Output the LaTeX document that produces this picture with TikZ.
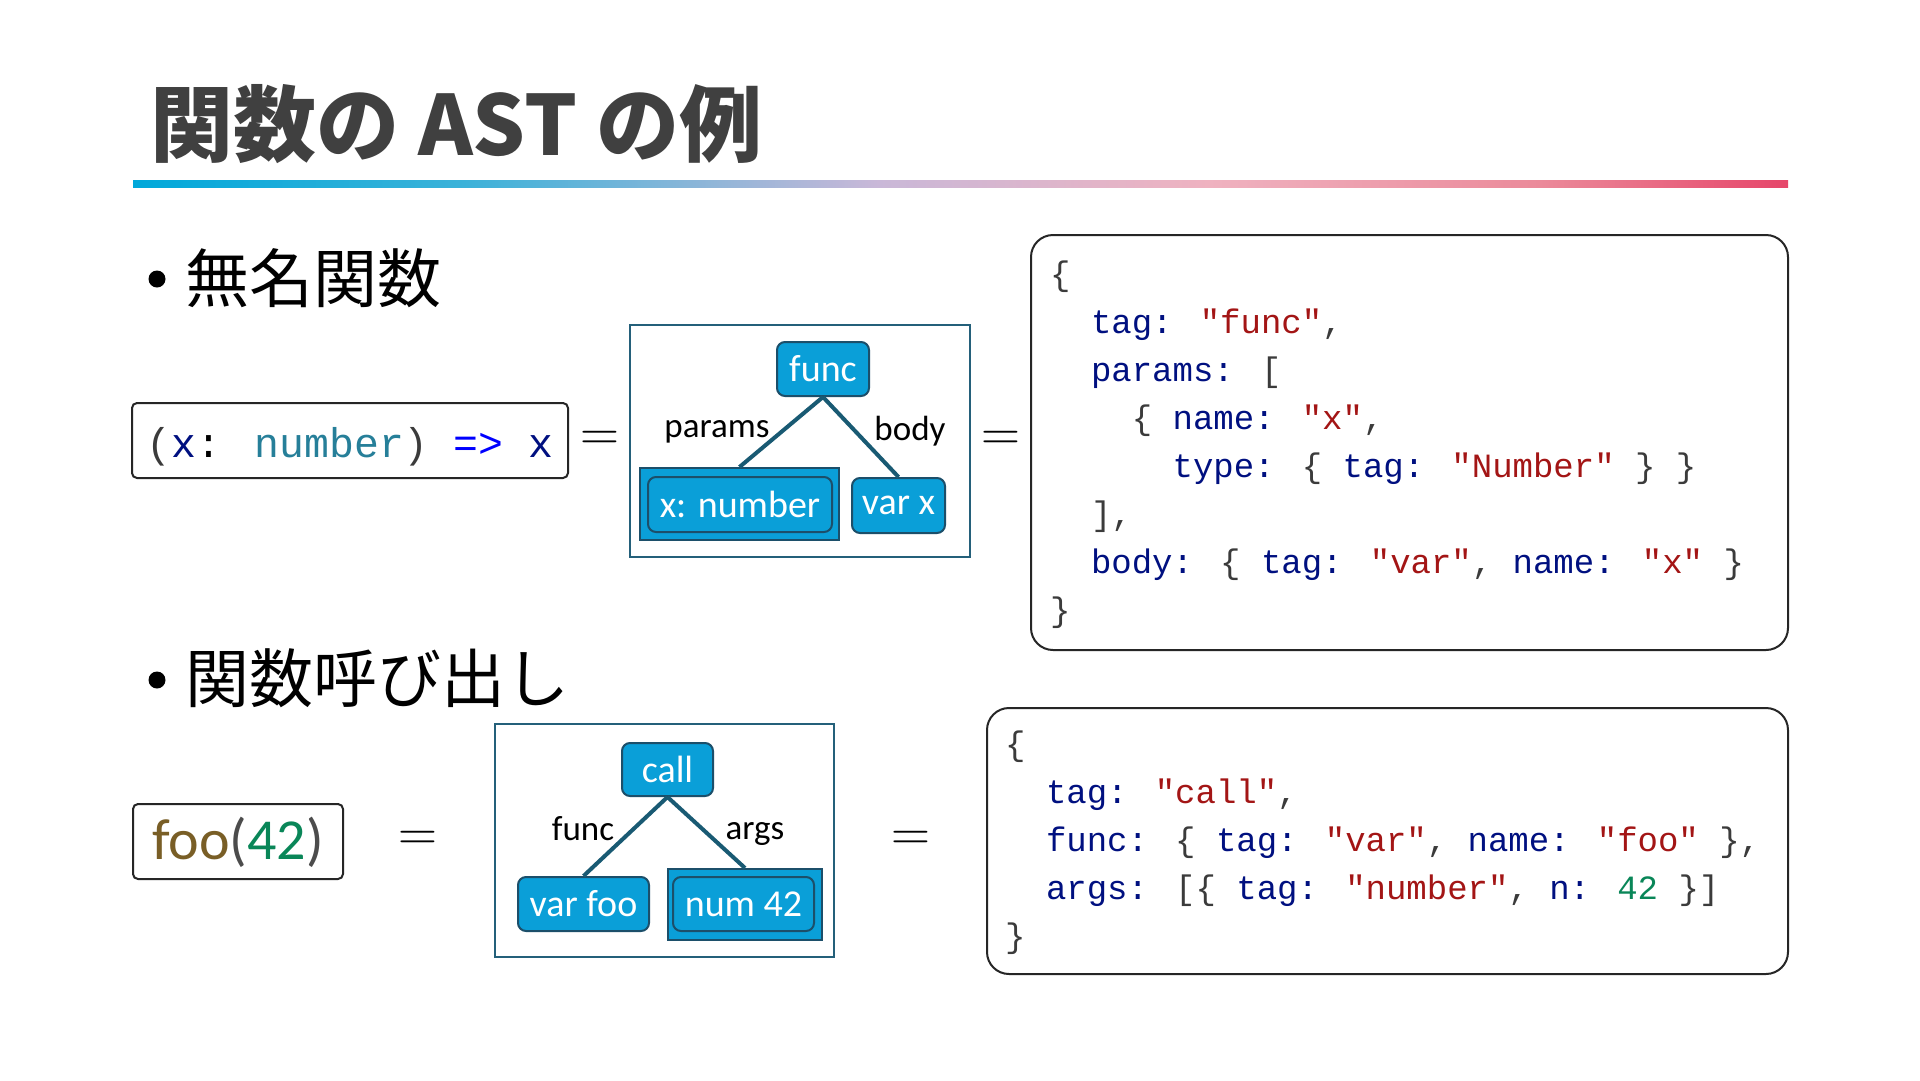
\documentclass[tikz,border=0pt]{standalone}
\usepackage{fontspec}
\newfontfamily\cjkfont{Noto Sans CJK JP}
\newfontfamily\calfont{Carlito}
\newfontfamily\codefont{Liberation Mono}
\definecolor{titlegray}{HTML}{404040}
\definecolor{nodeblue}{HTML}{0A9FD8}
\definecolor{nodeline}{HTML}{1C4F6A}
\definecolor{edgec}{HTML}{195A73}
\definecolor{boxline}{HTML}{24607A}
\definecolor{keyc}{HTML}{001080}
\definecolor{strc}{HTML}{A31515}
\definecolor{punc}{HTML}{3B3B3B}
\definecolor{numc}{HTML}{098658}
\definecolor{typec}{HTML}{267F99}
\definecolor{kwc}{HTML}{0000FF}
\definecolor{fnc}{HTML}{795E26}
\definecolor{barA}{HTML}{00A8DA}
\definecolor{barB}{HTML}{3BB2D9}
\definecolor{barC}{HTML}{C9B8D8}
\definecolor{barD}{HTML}{EFB2C0}
\definecolor{barE}{HTML}{EB8A9A}
\definecolor{barF}{HTML}{E6466A}
\pgfdeclarehorizontalshading{barshade}{100bp}{color(0bp)=(barA); color(25bp)=(barA); color(35bp)=(barB); color(47.5bp)=(barC); color(57.5bp)=(barD); color(67.5bp)=(barE); color(75bp)=(barF); color(100bp)=(barF)}
\newcommand{\jk}[1]{\textcolor{keyc}{#1}}
\newcommand{\js}[1]{\textcolor{strc}{#1}}
\newcommand{\jp}[1]{\textcolor{punc}{#1}}
\newcommand{\jn}[1]{\textcolor{numc}{#1}}
\begin{document}
\begin{tikzpicture}[x=1pt,y=-1pt,
  titlestyle/.style={anchor=base west, inner sep=0, text=titlegray, font=\cjkfont\bfseries\fontsize{83}{85}\selectfont},
  bulletdot/.style={circle, fill=black, minimum size=17, inner sep=0},
  bullettext/.style={anchor=base west, inner sep=0, text=black, font=\cjkfont\fontsize{64}{66}\selectfont},
  srcbox/.style={draw=black!85, line width=2, rounded corners=5, inner sep=0},
  astnode/.style={draw=nodeline, fill=nodeblue, line width=2, rounded corners=8, text=white, inner sep=0, font=\calfont\fontsize{38}{38}\selectfont},
  listbox/.style={draw=nodeline, fill=nodeblue, line width=2, inner sep=0},
  treebox/.style={draw=boxline, line width=2, inner sep=0},
  astedge/.style={draw=edgec, line width=4},
  elabel/.style={inner sep=0, text=black, font=\calfont\fontsize{35}{35}\selectfont},
  eqsign/.style={anchor=base, inner sep=0, font=\fontsize{54}{54}\selectfont},
  jsonbox/.style={draw=black!85, line width=2, rounded corners=22, inner sep=0},
  codeline/.style={anchor=base west, inner sep=0, font=\codefont\fontsize{34}{40}\selectfont}
]
\useasboundingbox (0,0) rectangle (1920,1080);
\fill[white] (0,0) rectangle (1920,1080);

% title
\node[titlestyle] (title) at (150,155) {関数の AST の例};
\shade[shading=barshade] (133,180) rectangle (1788,187);

% bullets
\node[bulletdot] (b1) at (157,279) {};
\node[bullettext] (t1) at (185,302) {無名関数};
\node[bulletdot] (b2) at (157,680) {};
\node[bullettext] (t2) at (185,702) {関数呼び出し};

% ---------- row 1 ----------
\node[srcbox, minimum width=436, minimum height=75] (src1) at (350,440.5) {};
\node[anchor=base, inner sep=0, font=\codefont\fontsize{41.5}{44}\selectfont] (src1t) at (350,457)
  {\jp{(}\jk{x}: \textcolor{typec}{number}\jp{)} \textcolor{kwc}{=>} \jk{x}};
\node[eqsign] (eq1) at (600,450.5) {=};

\node[treebox, minimum width=340, minimum height=232] (tree1) at (800,441) {};
\node[astnode, minimum width=92, minimum height=54] (func) at (823,369) {func};
\node[listbox, minimum width=199, minimum height=72] (xout) at (739.5,504) {};
\node[astnode, minimum width=184, minimum height=55] (xin) at (740,504.5) {x: number};
\node[astnode, minimum width=93, minimum height=55] (varx) at (898.5,505.5) {var x};
\draw[astedge] (func.south) -- (xout.north);
\draw[astedge] (func.south) -- (varx.north);
\node[elabel] (lparams) at (717,432) {params};
\node[elabel] (lbody) at (910,431) {body};
\node[eqsign] (eq2) at (1001,450.5) {=};

\node[jsonbox, minimum width=757, minimum height=415] (json1) at (1409.5,442.5) {};
\node[codeline] (a1) at (1050,285) {\jp{\{}};
\node[codeline] (a2) at (1050,333) {\hspace*{1.2em}\jk{tag:} \js{"func"}\jp{,}};
\node[codeline] (a3) at (1050,381) {\hspace*{1.2em}\jk{params:} \jp{[}};
\node[codeline] (a4) at (1050,429) {\hspace*{2.4em}\jp{\{} \jk{name:} \js{"x"}\jp{,}};
\node[codeline] (a5) at (1050,477) {\hspace*{3.6em}\jk{type:} \jp{\{} \jk{tag:} \js{"Number"} \jp{\}} \jp{\}}};
\node[codeline] (a6) at (1050,525) {\hspace*{1.2em}\jp{],}};
\node[codeline] (a7) at (1050,573) {\hspace*{1.2em}\jk{body:} \jp{\{} \jk{tag:} \js{"var"}\jp{,} \jk{name:} \js{"x"} \jp{\}}};
\node[codeline] (a8) at (1050,621) {\jp{\}}};

% ---------- row 2 ----------
\node[srcbox, minimum width=210, minimum height=75] (src2) at (238,841.5) {};
\node[anchor=base, inner sep=0, font=\calfont\fontsize{58}{60}\selectfont] (src2t) at (238,859)
  {\textcolor{fnc}{foo}\textcolor{black!70}{(}\jn{42}\textcolor{black!70}{)}};
\node[eqsign] (eq3) at (418,850) {=};

\node[treebox, minimum width=339, minimum height=233] (tree2) at (664.5,840.5) {};
\node[astnode, minimum width=91, minimum height=53] (call) at (667.5,769.5) {call};
\node[astnode, minimum width=131, minimum height=54] (varfoo) at (583.5,904) {var foo};
\node[listbox, minimum width=154, minimum height=71] (nout) at (745,904.5) {};
\node[astnode, minimum width=141, minimum height=54] (nin) at (743.5,904) {num 42};
\draw[astedge] (call.south) -- (varfoo.north);
\draw[astedge] (call.south) -- (nout.north);
\node[elabel] (lfunc) at (583,829) {func};
\node[elabel] (largs) at (755,834) {args};
\node[eqsign] (eq4) at (911,850) {=};

\node[jsonbox, minimum width=801, minimum height=266] (json2) at (1387.5,841) {};
\node[codeline] (c1) at (1005,755) {\jp{\{}};
\node[codeline] (c2) at (1005,803) {\hspace*{1.2em}\jk{tag:} \js{"call"}\jp{,}};
\node[codeline] (c3) at (1005,851) {\hspace*{1.2em}\jk{func:} \jp{\{} \jk{tag:} \js{"var"}\jp{,} \jk{name:} \js{"foo"} \jp{\},}};
\node[codeline] (c4) at (1005,899) {\hspace*{1.2em}\jk{args:} \jp{[\{} \jk{tag:} \js{"number"}\jp{,} \jk{n:} \jn{42} \jp{\}]}};
\node[codeline] (c5) at (1005,947) {\jp{\}}};
\end{tikzpicture}
\end{document}
